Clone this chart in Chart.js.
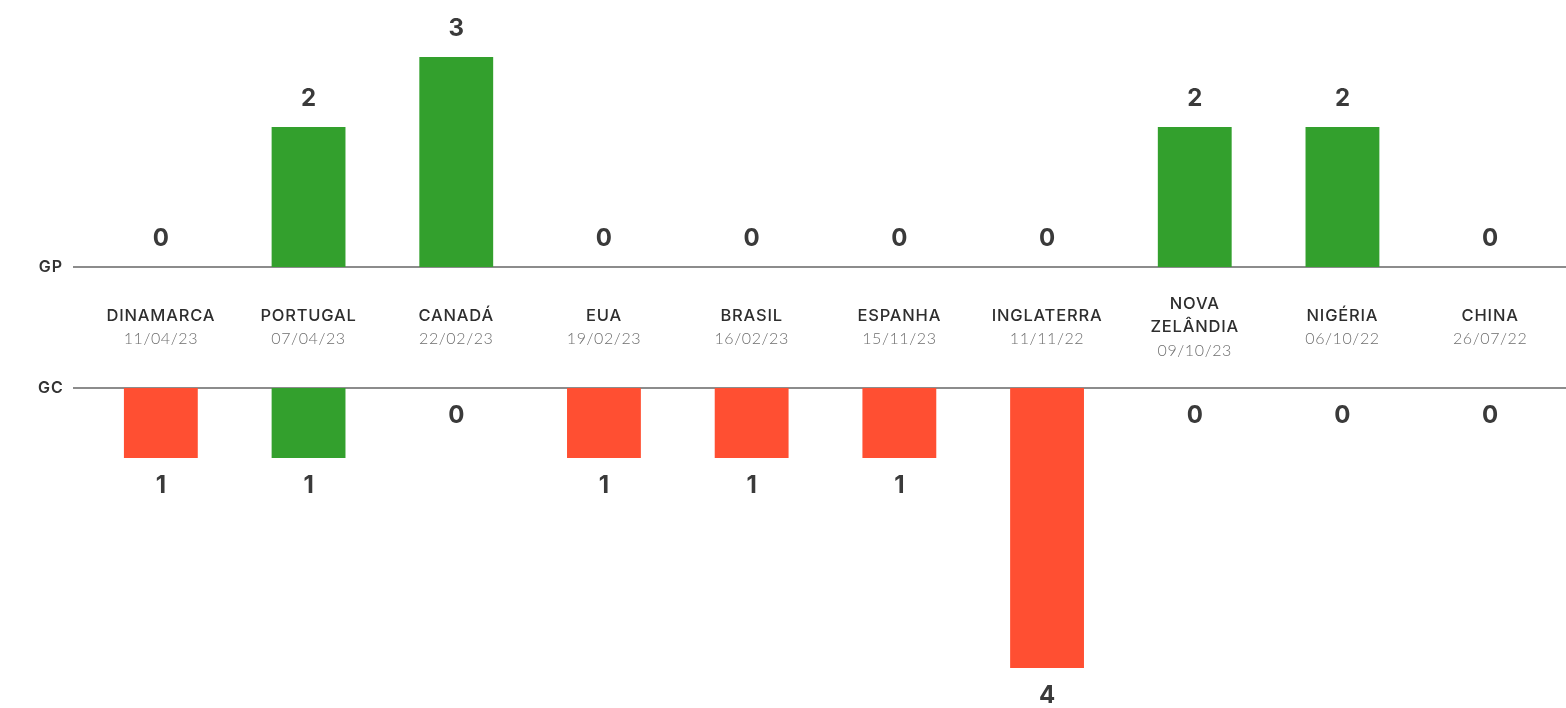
<!DOCTYPE html>
<html>
<head>
<meta charset="utf-8">
<script src="https://cdn.jsdelivr.net/npm/chart.js@4.4.0/dist/chart.umd.min.js"></script>
<style>
  html, body { margin: 0; padding: 0; background: #ffffff; }
  #wrap { position: relative; width: 1566px; height: 708px; overflow: hidden; }
  #wrap canvas { position: absolute; left: 0; top: 0; }
</style>
</head>
<body>
<div id="wrap">
  <canvas id="gpChart" width="1566" height="708"></canvas>
  <canvas id="gcChart" width="1566" height="708"></canvas>
</div>
<script>
// Opponents (upper case, as printed) and match dates
const opponents = ['DINAMARCA', 'PORTUGAL', 'CANADÁ', 'EUA', 'BRASIL', 'ESPANHA', 'INGLATERRA', ['NOVA', 'ZELÂNDIA'], 'NIGÉRIA', 'CHINA'];
const matchDates = ['11/04/23', '07/04/23', '22/02/23', '19/02/23', '16/02/23', '15/11/23', '11/11/22', '09/10/23', '06/10/22', '26/07/22'];
// Goals scored (GP) and goals conceded (GC) per match
const goalsFor = [0, 2, 3, 0, 0, 0, 0, 2, 2, 0];
const goalsAgainst = [1, 1, 0, 1, 1, 1, 4, 0, 0, 0];

const GREEN = '#33a02d';
const RED = '#ff4f32';
const UNIT = 70;            // pixels per goal on both panels
const GP_ZERO = 267;        // baseline of the goals-scored panel
const GC_ZERO = 388;        // baseline of the goals-conceded panel
const H = 708;

// green when the match was won, red otherwise
const resultColor = (ctx) => goalsFor[ctx.dataIndex] > goalsAgainst[ctx.dataIndex] ? GREEN : RED;

const valueFont = '700 24px Inter, "DejaVu Sans", sans-serif';

// baseline rule with its short axis name on the left
const baselinePlugin = {
  id: 'baseline',
  beforeDatasetsDraw(chart, args, opts) {
    const ctx = chart.ctx;
    const y = chart.scales.y.getPixelForValue(0);
    ctx.save();
    ctx.strokeStyle = '#8c8c8c';
    ctx.lineWidth = 2;
    ctx.beginPath();
    ctx.moveTo(73, y);
    ctx.lineTo(chart.width, y);
    ctx.stroke();
    ctx.fillStyle = '#333333';
    ctx.font = '600 16px Inter, sans-serif';
    ctx.letterSpacing = '1px';
    ctx.textAlign = 'center';
    ctx.textBaseline = 'middle';
    ctx.fillText(opts.name, 51, y);
    ctx.restore();
  }
};

// value printed past the end of each bar
const valuePlugin = {
  id: 'values',
  afterDatasetsDraw(chart, args, opts) {
    const ctx = chart.ctx;
    const meta = chart.getDatasetMeta(0);
    const ys = chart.scales.y;
    ctx.save();
    ctx.font = valueFont;
    ctx.fillStyle = '#3a3a3a';
    ctx.textAlign = 'center';
    ctx.textBaseline = 'middle';
    chart.data.datasets[0].data.forEach((v, i) => {
      const x = meta.data[i].x;
      const end = ys.getPixelForValue(v);
      ctx.fillText(String(v), x, end + opts.dir * 28);
    });
    ctx.restore();
  }
};

// opponent name and date between the two panels
const categoryPlugin = {
  id: 'categories',
  afterDraw(chart) {
    const ctx = chart.ctx;
    const xs = chart.scales.x;
    const zero = chart.scales.y.getPixelForValue(0);
    ctx.save();
    ctx.textAlign = 'center';
    ctx.textBaseline = 'middle';
    opponents.forEach((name, i) => {
      const x = xs.getPixelForValue(i);
      const lines = Array.isArray(name) ? name : [name];
      const shift = (lines.length - 1) * 11.5;
      ctx.font = '500 16.5px Inter, sans-serif';
      ctx.letterSpacing = '0.8px';
      ctx.fillStyle = '#2e2e2e';
      lines.forEach((ln, k) => ctx.fillText(ln, x, zero - 72 - shift + k * 23));
      ctx.font = '300 16px Lato, "Open Sans", sans-serif';
      ctx.letterSpacing = '0.6px';
      ctx.fillStyle = '#6e6e6e';
      ctx.fillText(matchDates[i], x, zero - 49 + shift);
    });
    ctx.restore();
  }
};

function panel(canvasId, values, opts) {
  return new Chart(document.getElementById(canvasId), {
    type: 'bar',
    data: {
      labels: opponents.map(o => Array.isArray(o) ? o.join(' ') : o),
      datasets: [{
        data: values,
        backgroundColor: resultColor,
        borderWidth: 0,
        barPercentage: 0.5,
        categoryPercentage: 1.0
      }]
    },
    options: {
      responsive: false,
      animation: false,
      devicePixelRatio: 1,
      layout: { padding: opts.padding },
      scales: {
        x: { display: false },
        y: { display: false, min: 0, max: opts.max, reverse: opts.reverse }
      },
      plugins: {
        legend: { display: false },
        tooltip: { enabled: false },
        baseline: { name: opts.name },
        values: { dir: opts.dir }
      }
    },
    plugins: opts.plugins
  });
}

// goals scored: bars rise from the upper baseline
panel('gpChart', goalsFor, {
  name: 'GP', dir: -1, reverse: false,
  max: GP_ZERO / UNIT,
  padding: { left: 87, right: 2, top: 0, bottom: H - GP_ZERO },
  plugins: [baselinePlugin, valuePlugin]
});

// goals conceded: bars hang from the lower baseline
panel('gcChart', goalsAgainst, {
  name: 'GC', dir: 1, reverse: true,
  max: (H - GC_ZERO) / UNIT,
  padding: { left: 87, right: 2, top: GC_ZERO, bottom: 0 },
  plugins: [baselinePlugin, valuePlugin, categoryPlugin]
});
</script>
</body>
</html>
